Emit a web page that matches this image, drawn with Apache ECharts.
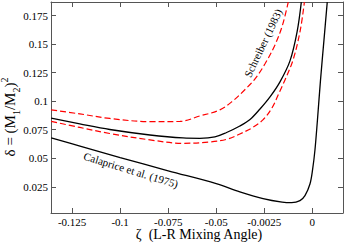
<!DOCTYPE html>
<html><head><meta charset="utf-8">
<script src="https://cdn.jsdelivr.net/npm/echarts@6/dist/echarts.min.js"></script>
<style>html,body{margin:0;padding:0;background:#fff}#c{width:345px;height:242px}</style>
</head><body><div id="c"></div>
<script>
// x ticks and labels
var xTicks = [-0.125, -0.1, -0.075, -0.05, -0.025, 0];
var xTickLabels = ['-0.125', '-0.1', '-0.075', '-0.05', '-0.0025', '0'];
var yTicks = [0.025, 0.05, 0.075, 0.1, 0.125, 0.15, 0.175];
var yTickLabels = ['0.025', '0.05', '0.075', '0.1', '0.125', '0.15', '0.175'];

// Calaprice et al. (1975)
var calapriceX = [-0.1359, -0.12, -0.1, -0.075, -0.05, -0.0377, -0.0256, -0.0157, -0.0107, -0.0064, -0.0038, -0.0012, 0.0002, 0.0014, 0.0027, 0.0043, 0.0061, 0.0078];
var calapriceY = [0.0678, 0.0603, 0.0506, 0.0390, 0.0278, 0.0206, 0.0147, 0.0116, 0.0111, 0.0129, 0.0173, 0.0274, 0.0404, 0.0572, 0.0836, 0.1187, 0.1538, 0.1869];

// Schreiber (1983) central
var schreiberX = [-0.1359, -0.1210, -0.1054, -0.0845, -0.0673, -0.0585, -0.0507, -0.0446, -0.0377, -0.0324, -0.0272, -0.0220, -0.0168, -0.0116, -0.0079, -0.0057];
var schreiberY = [0.0851, 0.0801, 0.0752, 0.0704, 0.0678, 0.0675, 0.0687, 0.0726, 0.0783, 0.0840, 0.0932, 0.1038, 0.1170, 0.1354, 0.1609, 0.1869];

// upper error band (red dashed)
var upperX = [-0.1359, -0.1210, -0.1054, -0.0845, -0.0689, -0.0585, -0.0481, -0.0413, -0.0351, -0.0298, -0.0246, -0.0194, -0.0156, -0.0125];
var upperY = [0.0924, 0.0889, 0.0849, 0.0821, 0.0823, 0.0871, 0.0924, 0.1003, 0.1101, 0.1196, 0.1328, 0.1494, 0.1662, 0.1869];

// lower error band (red dashed)
var lowerX = [-0.1359, -0.1210, -0.1054, -0.0845, -0.0673, -0.0533, -0.0439, -0.0377, -0.0314, -0.0257, -0.0210, -0.0168, -0.0142, -0.0100, -0.0063, -0.0041];
var lowerY = [0.0823, 0.0770, 0.0717, 0.0661, 0.0631, 0.0643, 0.0669, 0.0713, 0.0766, 0.0836, 0.0941, 0.1090, 0.1187, 0.1362, 0.1617, 0.1869];

function zip(a, b) { return a.map(function (v, i) { return [v, b[i]]; }); }

var serif = "'Times New Roman', 'Liberation Serif', serif";
var axisCol = '#555';

function xAxis(pos, showLabel) {
  return {
    type: 'value', position: pos, min: -0.136, max: 0.016,
    axisLine: { show: true, onZero: false, lineStyle: { color: axisCol, width: 1 } },
    axisTick: { show: true, inside: true, length: 5, customValues: xTicks, lineStyle: { color: axisCol } },
    axisLabel: { show: showLabel, customValues: xTicks, margin: 3, color: '#000', fontFamily: serif, fontSize: 11,
      formatter: function (v) { var i = xTicks.findIndex(function (t) { return Math.abs(t - v) < 1e-9; }); return i >= 0 ? xTickLabels[i] : ''; } },
    splitLine: { show: false }
  };
}
function yAxis(pos, showLabel) {
  return {
    type: 'value', position: pos, min: 0.002, max: 0.187,
    axisLine: { show: true, onZero: false, lineStyle: { color: axisCol, width: 1 } },
    axisTick: { show: true, inside: true, length: 5, customValues: yTicks, lineStyle: { color: axisCol } },
    axisLabel: { show: showLabel, customValues: yTicks, margin: 3, color: '#000', fontFamily: serif, fontSize: 11,
      formatter: function (v) { var i = yTicks.findIndex(function (t) { return Math.abs(t - v) < 1e-9; }); return i >= 0 ? yTickLabels[i] : ''; } },
    splitLine: { show: false }
  };
}

var chart = echarts.init(document.getElementById('c'), null, { renderer: 'svg' });
chart.setOption({
  animation: false,
  backgroundColor: '#fff',
  grid: { left: 51, right: 2, top: 2, bottom: 29, containLabel: false },
  xAxis: [xAxis('bottom', true), xAxis('top', false)],
  yAxis: [yAxis('left', true), yAxis('right', false)],
  series: [
    { type: 'line', data: zip(upperX, upperY), smooth: 0.35, showSymbol: false, clip: true,
      lineStyle: { color: '#ff0000', width: 1.2, type: [6, 3] } },
    { type: 'line', data: zip(lowerX, lowerY), smooth: 0.35, showSymbol: false, clip: true,
      lineStyle: { color: '#ff0000', width: 1.2, type: [6, 3] } },
    { type: 'line', data: zip(schreiberX, schreiberY), smooth: 0.35, showSymbol: false, clip: true,
      lineStyle: { color: '#000', width: 1.3 } },
    { type: 'line', data: zip(calapriceX, calapriceY), smooth: 0.35, showSymbol: false, clip: true,
      lineStyle: { color: '#000', width: 1.3 } }
  ],
  graphic: [
    { type: 'text', x: 10, y: 117, rotation: Math.PI / 2,
      style: { x: 0, y: 0, align: 'center', verticalAlign: 'middle', fill: '#000',
        text: '{m|δ = (M}{s|1}{m|/M}{s|2}{m|)}{p|2}',
        rich: {
          m: { fontFamily: serif, fontSize: 15, fill: '#000', lineHeight: 22, verticalAlign: 'middle' },
          s: { fontFamily: serif, fontSize: 10, fill: '#000', lineHeight: 22, verticalAlign: 'bottom' },
          p: { fontFamily: serif, fontSize: 10, fill: '#000', lineHeight: 22, verticalAlign: 'top' }
        } } },
    { type: 'text', x: 199, y: 234.5,
      style: { x: 0, y: 0, align: 'center', verticalAlign: 'middle', fill: '#000',
        text: 'ζ  (L-R Mixing Angle)', fontFamily: serif, fontSize: 14 } },
    { type: 'text', x: 263, y: 43, rotation: 64.5 * Math.PI / 180,
      style: { x: 0, y: 0, align: 'center', verticalAlign: 'middle', fill: '#000',
        text: 'Schreiber (1983)', fontFamily: serif, fontSize: 11 } },
    { type: 'text', x: 131, y: 170, rotation: -17 * Math.PI / 180,
      style: { x: 0, y: 0, align: 'center', verticalAlign: 'middle', fill: '#000',
        text: 'Calaprice et al. (1975)', fontFamily: serif, fontSize: 11 } }
  ]
});
</script>
</body></html>
